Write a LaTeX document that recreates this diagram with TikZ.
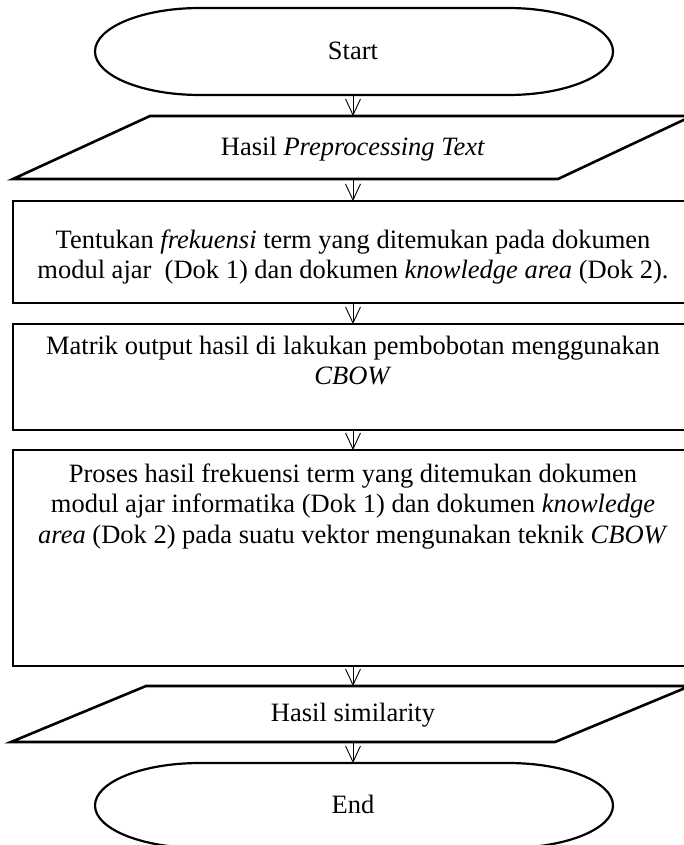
\documentclass[tikz,border=0pt]{standalone}
\usepackage{fontspec}
\setmainfont{Liberation Serif}
\usetikzlibrary{arrows.meta}
\begin{document}
\begin{tikzpicture}[x=1pt,y=-1pt,
  boxline/.style={line width=2.6pt, line join=miter},
  termline/.style={line width=2.2pt},
  flow/.style={line width=0.9pt, -{Straight Barb[length=16pt,width=15pt,line width=0.9pt]}},
  txt/.style={inner sep=0pt, font=\fontsize{26.5}{30.5}\selectfont, align=center},
]
\clip (0,0) rectangle (684,845);
\fill[white] (0,0) rectangle (684,845);

% terminals (stadium shapes with elliptic ends)
\draw[termline] (200,8) -- (508,8)
  arc[start angle=-90, end angle=90, x radius=105, y radius=43.5]
  -- (200,95) arc[start angle=90, end angle=270, x radius=105, y radius=43.5] -- cycle;
\draw[termline] (200,763) -- (508,763)
  arc[start angle=-90, end angle=90, x radius=105, y radius=42.5]
  -- (200,848) arc[start angle=90, end angle=270, x radius=105, y radius=42.5] -- cycle;

% input / output parallelograms
\draw[boxline] (150,116) -- (692,116) -- (558,179) -- (13,179) -- cycle;
\draw[boxline] (146,686) -- (690,686) -- (555,742) -- (11,742) -- cycle;

% process boxes
\draw[boxline] (13,201) rectangle (695,303);
\draw[boxline] (13,324) rectangle (695,430);
\draw[boxline] (13,450) rectangle (695,666);

% connector end points
\coordinate (start-s) at (353,95);
\coordinate (in-n) at (353,116);
\coordinate (in-s) at (353,179);
\coordinate (p1-n) at (353,201);
\coordinate (p1-s) at (353,303);
\coordinate (p2-n) at (353,324);
\coordinate (p2-s) at (353,430);
\coordinate (p3-n) at (353,450);
\coordinate (p3-s) at (353,666);
\coordinate (out-n) at (353,686);
\coordinate (out-s) at (353,742);
\coordinate (end-n) at (353,763);

% texts
\node[txt, anchor=base] (start) at (353,60) {Start};
\node[txt, anchor=base] (in) at (353,156) {Hasil \textit{Preprocessing Text}};
\node[txt, anchor=north] (p1) at (353,226.65) {\strut Tentukan \textit{frekuensi} term yang ditemukan pada dokumen\\
  modul ajar~ (Dok 1) dan dokumen \textit{knowledge area} (Dok 2).};
\node[txt, anchor=north] (p2) at (353,332.65) {\strut Matrik output hasil di lakukan pembobotan menggunakan\\
  \textit{CBOW}};
\node[txt, anchor=north] (p3) at (353,460.65) {\strut Proses hasil frekuensi term yang ditemukan dokumen\\
  modul ajar informatika (Dok 1) dan dokumen \textit{knowledge}\\
  \textit{area} (Dok 2) pada suatu vektor mengunakan teknik \textit{CBOW}};
\node[txt, anchor=base] (out) at (353,721) {Hasil similarity};
\node[txt, anchor=base] (end) at (353,813) {End};

% connectors
\draw[flow] (start-s) -- (in-n);
\draw[flow] (in-s) -- (p1-n);
\draw[flow] (p1-s) -- (p2-n);
\draw[flow] (p2-s) -- (p3-n);
\draw[flow] (p3-s) -- (out-n);
\draw[flow] (out-s) -- (end-n);
\end{tikzpicture}
\end{document}
